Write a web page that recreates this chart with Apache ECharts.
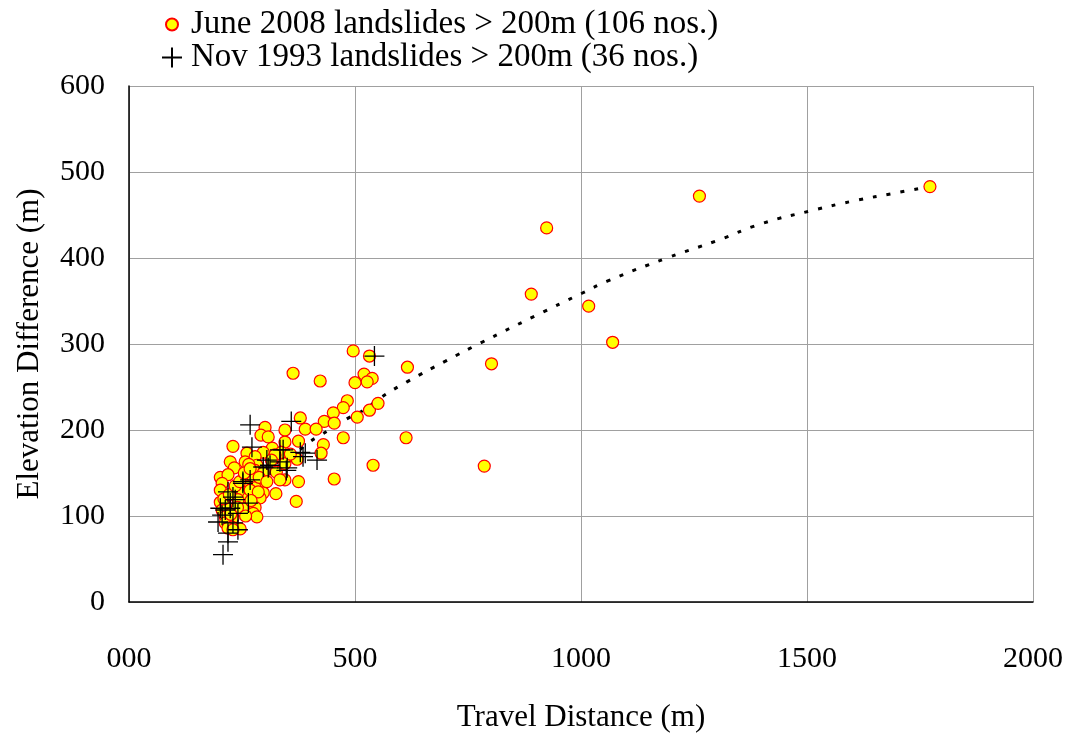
<!DOCTYPE html>
<html>
<head>
<meta charset="utf-8">
<script src="https://cdn.jsdelivr.net/npm/echarts@6/dist/echarts.min.js"></script>
<style>html,body{margin:0;padding:0;background:#fff}#c{width:1068px;height:733px}</style>
</head>
<body>
<div id="c"></div>
<script>
// June 2008 landslides: [travel distance (m), elevation difference (m)]
const june2008 = [
 [1772,483],[1262,472],[924,435],[890,358],[1017,344],[1070,302],[802,277],[786,158],[616,273],[613,191],[540,159],
 [496,292],[532,286],[520,265],[538,260],[527,256],[500,255],[483,234],[474,226],[452,220],[505,215],[532,223],[551,231],
 [423,257],[363,266],[432,210],[454,208],[390,201],[414,201],[379,214],[474,191],[430,183],[425,173],[375,187],[454,143],
 [375,140],[370,117],[345,200],[345,186],[345,161],[372,166],[345,142],[325,126],[301,203],[292,194],[308,192],[317,179],
 [297,174],[337,174],[357,172],[261,173],[279,169],[323,171],[257,163],[283,159],[279,153],[326,151],[297,150],[257,145],
 [275,145],[334,142],[295,140],[261,134],[279,133],[250,128],[297,127],[264,121],[290,121],[279,110],[252,109],[275,103],
 [283,99],[230,181],[224,163],[233,156],[265,160],[202,145],[219,148],[206,138],[202,130],[268,130],[286,128],[202,116],
 [241,119],[206,107],[217,110],[213,99],[230,98],[213,92],[228,87],[246,85],[219,86],[230,84],
 [210,120],[222,125],[235,135],[245,140],[255,150],[268,155],[288,145],[305,140],[315,165],[240,110],[225,102],[258,100],[270,118]
];
// Nov 1993 landslides
const nov1993 = [
 [543,286],[268,206],[359,210],[272,180],[390,173],[416,165],[379,174],[385,169],[348,153],[312,159],[334,163],[305,165],
 [297,157],[341,177],[350,156],[308,156],[268,142],[252,138],[264,115],[230,122],[224,115],[213,107],[206,101],[219,128],
 [235,119],[202,109],[224,109],[241,103],[197,93],[219,80],[241,84],[219,70],[208,55],[230,92],[334,177],[252,140]
];
// dotted trend curve
const trend = [
 [230,121],[263,140],[300,155],[363,171],[396,185],[427,195],[460,206],[489,215],[522,224],[555,237],[615,256],
 [700,280],[777,301],[900,333],[1002,359],[1058,373],[1190,400],[1300,420],[1400,440],[1509,455],[1600,466],[1700,476],[1770,483]
];
const xTicks = [0,500,1000,1500,2000];
const yTicks = [0,100,200,300,400,500,600];
const name1 = 'June 2008 landslides > 200m (106 nos.)';
const name2 = 'Nov 1993 landslides > 200m (36 nos.)';

const FONT = '"Liberation Serif","Times New Roman",serif';
const crossPath = 'path://M0,10L20,10M10,0L10,20';
const chart = echarts.init(document.getElementById('c'), null, {renderer:'canvas'});
chart.setOption({
  animation:false,
  backgroundColor:'#fff',
  textStyle:{fontFamily:FONT},
  legend:[
    {data:[name1], left:160, top:3, orient:'vertical', icon:'circle', itemWidth:12, itemHeight:12,
     textStyle:{fontFamily:FONT, fontSize:33, color:'#000', padding:[0,0,0,8]}, selectedMode:false},
    {data:[{name:name2, icon:crossPath}], left:156, top:36, orient:'vertical', itemWidth:20, itemHeight:20,
     textStyle:{fontFamily:FONT, fontSize:33, color:'#000', padding:[0,0,0,4]}, selectedMode:false}
  ],
  grid:{left:129, right:35, top:86, bottom:131, containLabel:false, outerBoundsMode:'none'},
  xAxis:{type:'value', min:xTicks[0], max:xTicks[xTicks.length-1], interval:500,
    name:'Travel Distance (m)', nameLocation:'middle', nameGap:100,
    nameTextStyle:{fontFamily:FONT, fontSize:31, color:'#000'},
    axisLine:{show:true, onZero:false, lineStyle:{color:'#000', width:1.5}},
    axisTick:{show:false},
    axisLabel:{fontFamily:FONT, fontSize:30, color:'#000', margin:42,
      formatter:v=> v===0 ? '000' : String(v)},
    splitLine:{show:true, lineStyle:{color:'#a0a0a0', width:1}}
  },
  yAxis:{type:'value', min:yTicks[0], max:yTicks[yTicks.length-1], interval:100,
    name:'Elevation Difference (m)', nameLocation:'middle', nameGap:84,
    nameTextStyle:{fontFamily:FONT, fontSize:31, color:'#000'},
    axisLine:{show:true, onZero:false, lineStyle:{color:'#000', width:1.5}},
    axisTick:{show:false},
    axisLabel:{fontFamily:FONT, fontSize:30, color:'#000', margin:24},
    splitLine:{show:true, lineStyle:{color:'#a0a0a0', width:1}}
  },
  series:[
    {name:'trend', type:'line', data:trend, smooth:true, symbol:'none', z:3,
     lineStyle:{color:'#000', width:3, type:[4,10]}},
    {name:name1, type:'scatter', data:june2008, symbol:'circle', symbolSize:12, z:4,
     itemStyle:{color:'#ffff00', borderColor:'#ff0000', borderWidth:1.2, opacity:1}},
    {name:name2, type:'scatter', data:nov1993, symbol:crossPath, symbolSize:20, z:5,
     itemStyle:{color:'rgba(0,0,0,0)', borderColor:'#000', borderWidth:1.3, opacity:1}}
  ]
});
</script>
</body>
</html>
